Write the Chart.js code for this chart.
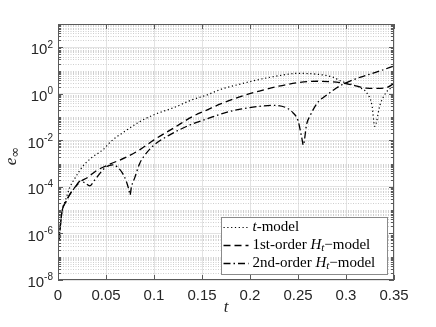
<!DOCTYPE html>
<html>
<head>
<meta charset="utf-8">
<script src="https://cdn.jsdelivr.net/npm/chart.js@4.4.1/dist/chart.umd.min.js"></script>
<style>
html, body { margin: 0; padding: 0; background: #fff; }
#wrap { width: 436px; height: 327px; }
</style>
</head>
<body>
<div id="wrap"><canvas id="errChart" width="436" height="327"></canvas></div>
<script>
// t-model
const tModelT = [0.001, 0.004, 0.008, 0.012, 0.018, 0.026, 0.035, 0.047, 0.055, 0.07, 0.085, 0.1, 0.12, 0.14, 0.155, 0.17, 0.19, 0.21, 0.23, 0.25, 0.27, 0.2865, 0.295, 0.305, 0.315, 0.3215, 0.327, 0.33, 0.3354, 0.3424, 0.35];
const tModelErr = [5e-7, 7.9e-6, 2.8e-5, 8.9e-5, 2.5e-4, 7.9e-4, 1.8e-3, 4e-3, 8.9e-3, 2.5e-2, 6.3e-2, 0.126, 0.25, 0.56, 0.89, 1.58, 2.63, 4.17, 6.0, 7.6, 6.9, 5.2, 3.5, 2.6, 1.8, 1.12, 0.33, 0.04, 0.33, 1.23, 2.1];

// 1st-order Ht-model
const firstT = [0.001, 0.004, 0.008, 0.012, 0.018, 0.025, 0.03, 0.04, 0.0535, 0.07, 0.085, 0.1, 0.12, 0.14, 0.155, 0.17, 0.19, 0.21, 0.23, 0.25, 0.27, 0.285, 0.3, 0.31, 0.3215, 0.333, 0.343, 0.35];
const firstErr = [5e-7, 7.9e-6, 2.2e-5, 4.5e-5, 1e-4, 1.9e-4, 2.4e-4, 5e-4, 9.3e-4, 1.8e-3, 3.9e-3, 1.05e-2, 3.3e-2, 0.105, 0.2, 0.38, 0.76, 1.32, 2.14, 3.0, 3.47, 3.3, 2.75, 2.2, 1.74, 1.7, 1.9, 2.8];

// 2nd-order Ht-model
const secondT = [0.001, 0.004, 0.008, 0.012, 0.018, 0.023, 0.028, 0.033, 0.038, 0.045, 0.051, 0.057, 0.062, 0.067, 0.071, 0.074, 0.075, 0.0765, 0.08, 0.085, 0.09, 0.1, 0.115, 0.1375, 0.155, 0.172, 0.19, 0.21, 0.225, 0.238, 0.245, 0.25, 0.254, 0.2555, 0.259, 0.2625, 0.27, 0.28, 0.29, 0.297, 0.31, 0.3215, 0.335, 0.35];
const secondErr = [5e-7, 7.9e-6, 2.2e-5, 4.5e-5, 1e-4, 1.75e-4, 1.5e-4, 1.1e-4, 1.9e-4, 4.5e-4, 7.6e-4, 8.9e-4, 7.1e-4, 4e-4, 1.8e-4, 7.1e-5, 4.5e-5, 1e-4, 2.5e-4, 1e-3, 2.2e-3, 6.3e-3, 1.6e-2, 4.6e-2, 8.3e-2, 0.145, 0.22, 0.29, 0.32, 0.25, 0.15, 0.071, 0.0126, 0.0063, 0.05, 0.112, 0.4, 0.89, 1.78, 2.6, 4.4, 6.3, 9.5, 15.8];

const xTicks = [0, 0.05, 0.1, 0.15, 0.2, 0.25, 0.3, 0.35];
const yDecades = [-8, -7, -6, -5, -4, -3, -2, -1, 0, 1, 2];
const yLabelExps = [-8, -6, -4, -2, 0, 2];
const seriesNames = ['t-model', '1st-order Ht\u2212model', '2nd-order Ht\u2212model'];

const SANS = '"Liberation Sans", Arial, sans-serif';
const SERIF = '"Liberation Serif", "Times New Roman", serif';

function pairs(ts, vs) {
    return ts.map((t, i) => ({ x: t, y: vs[i] }));
}

function labelledExp(v) {
    const e = Math.round(Math.log10(v));
    if (Math.abs(v - Math.pow(10, e)) / v > 1e-6) return null;
    return yLabelExps.includes(e) ? e : null;
}

// 凡例の書式付きテキスト
const legendParts = [
    [{ s: 't', it: true }, { s: '-model' }],
    [{ s: '1st-order ' }, { s: 'H', it: true }, { s: 't', it: true, sub: true }, { s: '\u2212model' }],
    [{ s: '2nd-order ' }, { s: 'H', it: true }, { s: 't', it: true, sub: true }, { s: '\u2212model' }]
];

function drawParts(ctx, parts, x, y, size) {
    parts.forEach(p => {
        const sz = p.sub ? Math.round(size * 0.7) : size;
        ctx.font = (p.it ? 'italic ' : '') + sz + 'px ' + SERIF;
        ctx.fillText(p.s, x, y + (p.sub ? 3 : 0));
        x += ctx.measureText(p.s).width;
    });
    return x;
}

const matlabFrame = {
    id: 'matlabFrame',
    beforeDatasetsDraw(chart) {
        const { ctx, chartArea: a, scales: { y } } = chart;
        ctx.save();
        ctx.strokeStyle = '#cfcfcf';
        ctx.lineWidth = 1;
        ctx.setLineDash([1, 1.5]);
        y.ticks.forEach(tk => {
            if (labelledExp(tk.value) !== null) return;
            const py = Math.round(y.getPixelForValue(tk.value)) + 0.5;
            if (py <= a.top + 1 || py >= a.bottom - 1) return;
            ctx.beginPath();
            ctx.moveTo(a.left, py);
            ctx.lineTo(a.right, py);
            ctx.stroke();
        });
        ctx.restore();
    },
    afterDraw(chart) {
        const { ctx, chartArea: a, scales: { x, y } } = chart;
        ctx.save();

        // 枠線と内向きの目盛り
        ctx.strokeStyle = '#5a5a5a';
        ctx.lineWidth = 1;
        ctx.strokeRect(a.left + 0.5, a.top + 0.5, a.right - a.left - 1, a.bottom - a.top - 1);
        ctx.beginPath();
        y.ticks.forEach(tk => {
            const py = Math.round(y.getPixelForValue(tk.value)) + 0.5;
            const len = labelledExp(tk.value) !== null ? 5 : 3;
            ctx.moveTo(a.left, py); ctx.lineTo(a.left + len, py);
            ctx.moveTo(a.right, py); ctx.lineTo(a.right - len, py);
        });
        xTicks.forEach(v => {
            const px = Math.round(x.getPixelForValue(v)) + 0.5;
            ctx.moveTo(px, a.bottom); ctx.lineTo(px, a.bottom - 5);
            ctx.moveTo(px, a.top); ctx.lineTo(px, a.top + 5);
        });
        ctx.stroke();

        // y軸ラベル 10^n
        ctx.fillStyle = '#262626';
        ctx.textBaseline = 'middle';
        ctx.textAlign = 'left';
        yLabelExps.forEach(e => {
            const py = y.getPixelForValue(Math.pow(10, e));
            const ex = String(e);
            ctx.font = '10px ' + SANS;
            const ew = ctx.measureText(ex).width;
            ctx.font = '15px ' + SANS;
            const bw = ctx.measureText('10').width;
            const right = a.left - 5;
            ctx.fillText('10', right - ew - bw, py + 3);
            ctx.font = '10px ' + SANS;
            ctx.fillText(ex, right - ew, py - 2.5);
        });

        // 軸タイトル
        ctx.fillStyle = '#262626';
        ctx.textBaseline = 'alphabetic';
        ctx.font = 'italic 17px ' + SERIF;
        const tw = ctx.measureText('t').width;
        ctx.fillText('t', (a.left + a.right) / 2 - tw / 2, 312);

        ctx.save();
        ctx.translate(16, 156);
        ctx.rotate(-Math.PI / 2);
        ctx.font = 'italic 17px ' + SERIF;
        const ew2 = ctx.measureText('e').width;
        ctx.font = '13px ' + 'DejaVu Sans, sans-serif';
        const iw = ctx.measureText('\u221e').width;
        const x0 = -(ew2 + iw) / 2;
        ctx.font = 'italic 17px ' + SERIF;
        ctx.fillText('e', x0, 0);
        ctx.font = '13px ' + 'DejaVu Sans, sans-serif';
        ctx.fillText('\u221e', x0 + ew2, 3);
        ctx.restore();

        // 凡例
        const bx = 221.5, by = 217.5, bw2 = 166, bh = 57;
        ctx.fillStyle = '#fff';
        ctx.fillRect(bx, by, bw2, bh);
        ctx.strokeStyle = '#8a8a8a';
        ctx.setLineDash([]);
        ctx.strokeRect(bx, by, bw2, bh);
        chart.data.datasets.forEach((ds, i) => {
            const ly = by + 10 + i * 18;
            ctx.strokeStyle = '#000';
            ctx.lineWidth = ds.borderWidth;
            ctx.setLineDash(ds.borderDash);
            ctx.beginPath();
            ctx.moveTo(bx + 2, ly);
            ctx.lineTo(bx + 27, ly);
            ctx.stroke();
            ctx.setLineDash([]);
            ctx.fillStyle = '#000';
            ctx.textBaseline = 'middle';
            drawParts(ctx, legendParts[i], bx + 31, ly, 15);
        });

        ctx.restore();
    }
};

new Chart(document.getElementById('errChart').getContext('2d'), {
    type: 'line',
    data: {
        datasets: [
            {
                label: seriesNames[0],
                data: pairs(tModelT, tModelErr),
                borderColor: '#000',
                borderWidth: 1.2,
                borderDash: [1.2, 2.6],
                pointRadius: 0,
                cubicInterpolationMode: 'monotone'
            },
            {
                label: seriesNames[1],
                data: pairs(firstT, firstErr),
                borderColor: '#000',
                borderWidth: 1.3,
                borderDash: [7, 4],
                pointRadius: 0,
                cubicInterpolationMode: 'monotone'
            },
            {
                label: seriesNames[2],
                data: pairs(secondT, secondErr),
                borderColor: '#000',
                borderWidth: 1.3,
                borderDash: [7, 3, 1.5, 3],
                pointRadius: 0,
                cubicInterpolationMode: 'monotone'
            }
        ]
    },
    options: {
        responsive: false,
        animation: false,
        devicePixelRatio: 1,
        layout: { padding: { top: 24, right: 42, left: 0, bottom: 0 } },
        plugins: {
            legend: { display: false },
            tooltip: { enabled: false }
        },
        scales: {
            x: {
                type: 'linear',
                min: 0,
                max: 0.35,
                afterBuildTicks: scale => { scale.ticks = xTicks.map(v => ({ value: v })); },
                afterFit: scale => { scale.height = 47; },
                border: { display: false },
                grid: { color: '#e3e3e3', drawTicks: false },
                ticks: {
                    padding: 7,
                    color: '#262626',
                    font: { family: SANS, size: 15 },
                    callback: v => String(+v.toFixed(2))
                }
            },
            y: {
                type: 'logarithmic',
                min: 1e-8,
                max: 1e3,
                afterBuildTicks: scale => {
                    const list = [];
                    yDecades.forEach(e => {
                        for (let k = 1; k <= 9; k++) list.push({ value: k * Math.pow(10, e) });
                    });
                    list.push({ value: 1e3 });
                    scale.ticks = list;
                },
                afterFit: scale => { scale.width = 58; },
                border: { display: false },
                grid: {
                    drawTicks: false,
                    color: c => (c.tick && labelledExp(c.tick.value) !== null) ? '#e3e3e3' : 'rgba(0,0,0,0)'
                },
                ticks: { display: false }
            }
        }
    },
    plugins: [matlabFrame]
});
</script>
</body>
</html>
